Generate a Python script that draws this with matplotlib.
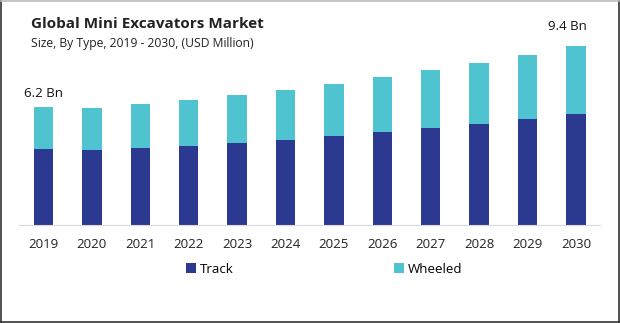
import matplotlib.pyplot as plt
from matplotlib.lines import Line2D
import numpy as np

plt.rcParams['font.family'] = ['Open Sans', 'DejaVu Sans']

# Market size by type, USD Million
years = ['2019', '2020', '2021', '2022', '2023', '2024',
         '2025', '2026', '2027', '2028', '2029', '2030']
track = [3960, 3930, 4035, 4140, 4300, 4455, 4665, 4875, 5080, 5290, 5555, 5815]
wheeled = [2240, 2220, 2305, 2410, 2510, 2620, 2725, 2880, 3040, 3200, 3355, 3585]
end_labels = {0: '6.2 Bn', 11: '9.4 Bn'}

TRACK_COLOR = '#2B3990'
WHEELED_COLOR = '#4FC3CF'

fig = plt.figure(figsize=(6.2, 3.23), dpi=100)
ax = fig.add_axes([0.031, 0.3034, 0.937, 0.6026])

x = np.arange(len(years))
ax.bar(x, track, width=0.4, color=TRACK_COLOR, label='Track')
ax.bar(x, wheeled, width=0.4, bottom=track, color=WHEELED_COLOR, label='Wheeled')

totals = np.array(track) + np.array(wheeled)
label_offsets = {0: (0, 5), 11: (-6, 9)}
for i, txt in end_labels.items():
    ax.annotate(txt, (x[i], totals[i]), xytext=label_offsets[i], textcoords='offset points',
                ha='center', va='bottom', fontsize=9.5, color='#111111')

ax.set_xlim(-0.5, 11.5)
ax.set_ylim(0, 10200)
ax.set_xticks(x)
ax.set_xticklabels(years, fontsize=9.5, color='#222222')
ax.set_yticks([])
for side in ['top', 'right', 'left']:
    ax.spines[side].set_visible(False)
ax.spines['bottom'].set_color('#d9d9d9')
ax.tick_params(axis='x', length=0, pad=9.5)

# Legend placed under the axis
fig.legend(loc='lower center', bbox_to_anchor=(0.523, 0.11), ncol=2, frameon=False,
           fontsize=9.5, handlelength=0.7, handleheight=0.7, handletextpad=0.3,
           columnspacing=12.2)

fig.text(0.05, 0.925, 'Global Mini Excavators Market', fontsize=11,
         fontweight='bold', color='#222222', va='center')
fig.text(0.05, 0.865, 'Size, By Type, 2019 - 2030, (USD Million)', fontsize=8.7,
         color='#222222', va='center')

# frame around the figure: dark sides and bottom, light top
frame = [((0.001, 0.001), (0.001, 0.999), '#333333'),
         ((0.999, 0.999), (0.001, 0.999), '#333333'),
         ((0.001, 0.999), (0.002, 0.002), '#333333'),
         ((0.001, 0.999), (0.998, 0.998), '#bbbbbb')]
for xs, ys, c in frame:
    fig.add_artist(Line2D(xs, ys, transform=fig.transFigure, color=c, linewidth=1.2))

fig.savefig('out.png', dpi=100)
